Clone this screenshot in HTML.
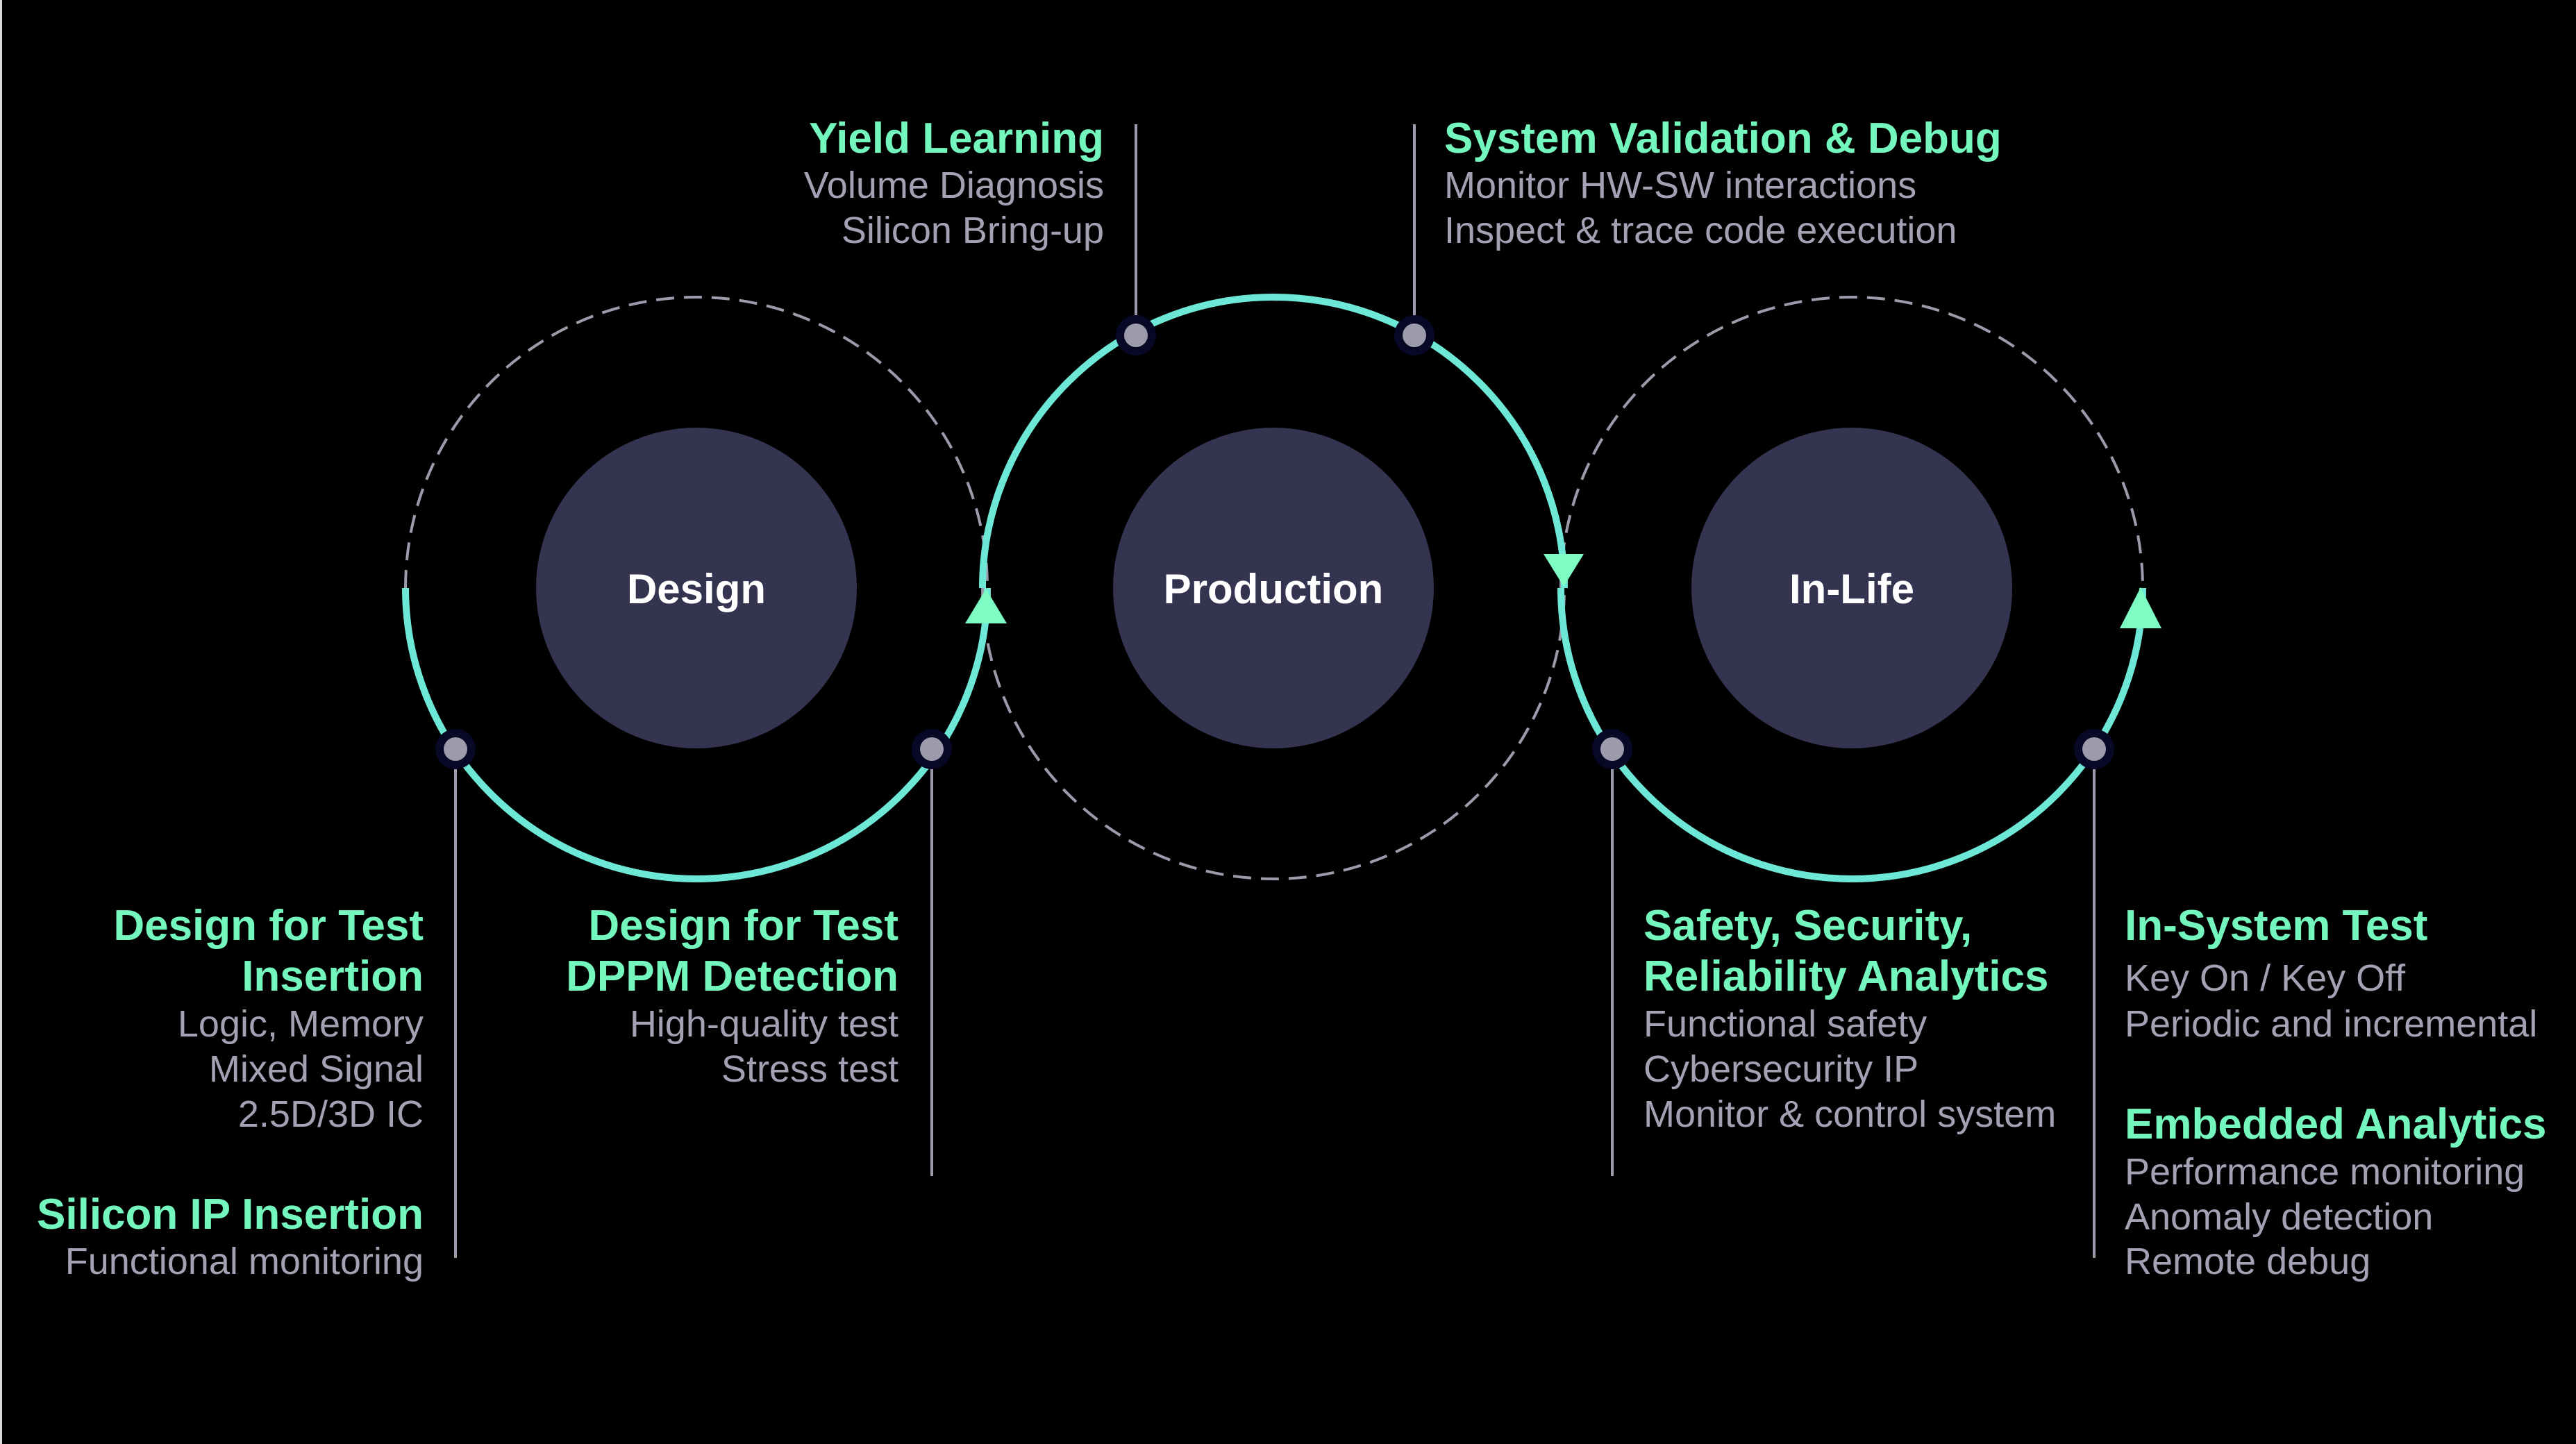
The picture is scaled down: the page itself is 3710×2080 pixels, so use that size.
<!DOCTYPE html>
<html><head><meta charset="utf-8"><style>
html,body{margin:0;padding:0;background:#000;}
svg{display:block;}
.h{font-family:"Liberation Sans",sans-serif;font-weight:bold;font-size:62px;fill:#74f7bd;}
.s{font-family:"Liberation Sans",sans-serif;font-size:54px;fill:#a3a1b3;}
.c{font-family:"Liberation Sans",sans-serif;font-weight:bold;font-size:60px;fill:#fff;}
</style></head><body>
<svg width="3710" height="2080" viewBox="0 0 3710 2080" xmlns="http://www.w3.org/2000/svg">
<rect width="3710" height="2080" fill="#000"/>
<rect width="3" height="2080" fill="#d8d8d8"/>
<g fill="none" stroke="#9c9aab" stroke-width="4" stroke-dasharray="26 14">
<path d="M584 847 A419 419 0 0 1 1422 847"/>
<path d="M1415 847 A419 419 0 0 0 2253 847"/>
<path d="M2248 847 A419 419 0 0 1 3086 847"/>
</g>
<g fill="none" stroke="#6de8d6" stroke-width="10">
<path d="M584 847 A419 419 0 0 0 1422 847"/>
<path d="M1415 847 A419 419 0 0 1 2253 847"/>
<path d="M2248 847 A419 419 0 0 0 3086 847"/>
</g>
<g fill="#7dfcc4">
<polygon points="1420,848 1390,898 1450,898"/>
<polygon points="2252,845 2223,798 2281,798"/>
<polygon points="3083,846 3053,905 3113,905"/>
</g>
<g fill="#343350">
<circle cx="1003" cy="847" r="231"/>
<circle cx="1834" cy="847" r="231"/>
<circle cx="2667" cy="847" r="231"/>
</g>
<text class="c" x="1003" y="869" text-anchor="middle">Design</text>
<text class="c" x="1834" y="869" text-anchor="middle">Production</text>
<text class="c" x="2667" y="869" text-anchor="middle">In-Life</text>
<g stroke="#9c9aab" stroke-width="4">
<line x1="656" y1="1079" x2="656" y2="1812"/>
<line x1="1342" y1="1079" x2="1342" y2="1694"/>
<line x1="1636" y1="179" x2="1636" y2="483"/>
<line x1="2037" y1="179" x2="2037" y2="483"/>
<line x1="2322" y1="1079" x2="2322" y2="1694"/>
<line x1="3016" y1="1079" x2="3016" y2="1812"/>
</g>
<g>
<circle cx="656" cy="1079" r="29" fill="#070726"/><circle cx="656" cy="1079" r="17" fill="#9c9aab"/>
<circle cx="1342" cy="1079" r="29" fill="#070726"/><circle cx="1342" cy="1079" r="17" fill="#9c9aab"/>
<circle cx="1636" cy="483" r="29" fill="#070726"/><circle cx="1636" cy="483" r="17" fill="#9c9aab"/>
<circle cx="2037" cy="483" r="29" fill="#070726"/><circle cx="2037" cy="483" r="17" fill="#9c9aab"/>
<circle cx="2322" cy="1079" r="29" fill="#070726"/><circle cx="2322" cy="1079" r="17" fill="#9c9aab"/>
<circle cx="3016" cy="1079" r="29" fill="#070726"/><circle cx="3016" cy="1079" r="17" fill="#9c9aab"/>
</g>
<g text-anchor="end">
<text class="h" x="1590" y="220">Yield Learning</text>
<text class="s" x="1590" y="285">Volume Diagnosis</text>
<text class="s" x="1590" y="350">Silicon Bring-up</text>
<text class="h" x="610" y="1354">Design for Test</text>
<text class="h" x="610" y="1427">Insertion</text>
<text class="s" x="610" y="1493">Logic, Memory</text>
<text class="s" x="610" y="1558">Mixed Signal</text>
<text class="s" x="610" y="1623">2.5D/3D IC</text>
<text class="h" x="610" y="1770">Silicon IP Insertion</text>
<text class="s" x="610" y="1835">Functional monitoring</text>
<text class="h" x="1294" y="1354">Design for Test</text>
<text class="h" x="1294" y="1427">DPPM Detection</text>
<text class="s" x="1294" y="1493">High-quality test</text>
<text class="s" x="1294" y="1558">Stress test</text>
</g>
<g>
<text class="h" x="2080" y="220">System Validation &amp; Debug</text>
<text class="s" x="2080" y="285">Monitor HW-SW interactions</text>
<text class="s" x="2080" y="350">Inspect &amp; trace code execution</text>
<text class="h" x="2367" y="1354">Safety, Security,</text>
<text class="h" x="2367" y="1427">Reliability Analytics</text>
<text class="s" x="2367" y="1493">Functional safety</text>
<text class="s" x="2367" y="1558">Cybersecurity IP</text>
<text class="s" x="2367" y="1623">Monitor &amp; control system</text>
<text class="h" x="3060" y="1354">In-System Test</text>
<text class="s" x="3060" y="1427">Key On / Key Off</text>
<text class="s" x="3060" y="1493">Periodic and incremental</text>
<text class="h" x="3060" y="1640">Embedded Analytics</text>
<text class="s" x="3060" y="1706">Performance monitoring</text>
<text class="s" x="3060" y="1771">Anomaly detection</text>
<text class="s" x="3060" y="1835">Remote debug</text>
</g>
</svg>
</body></html>
